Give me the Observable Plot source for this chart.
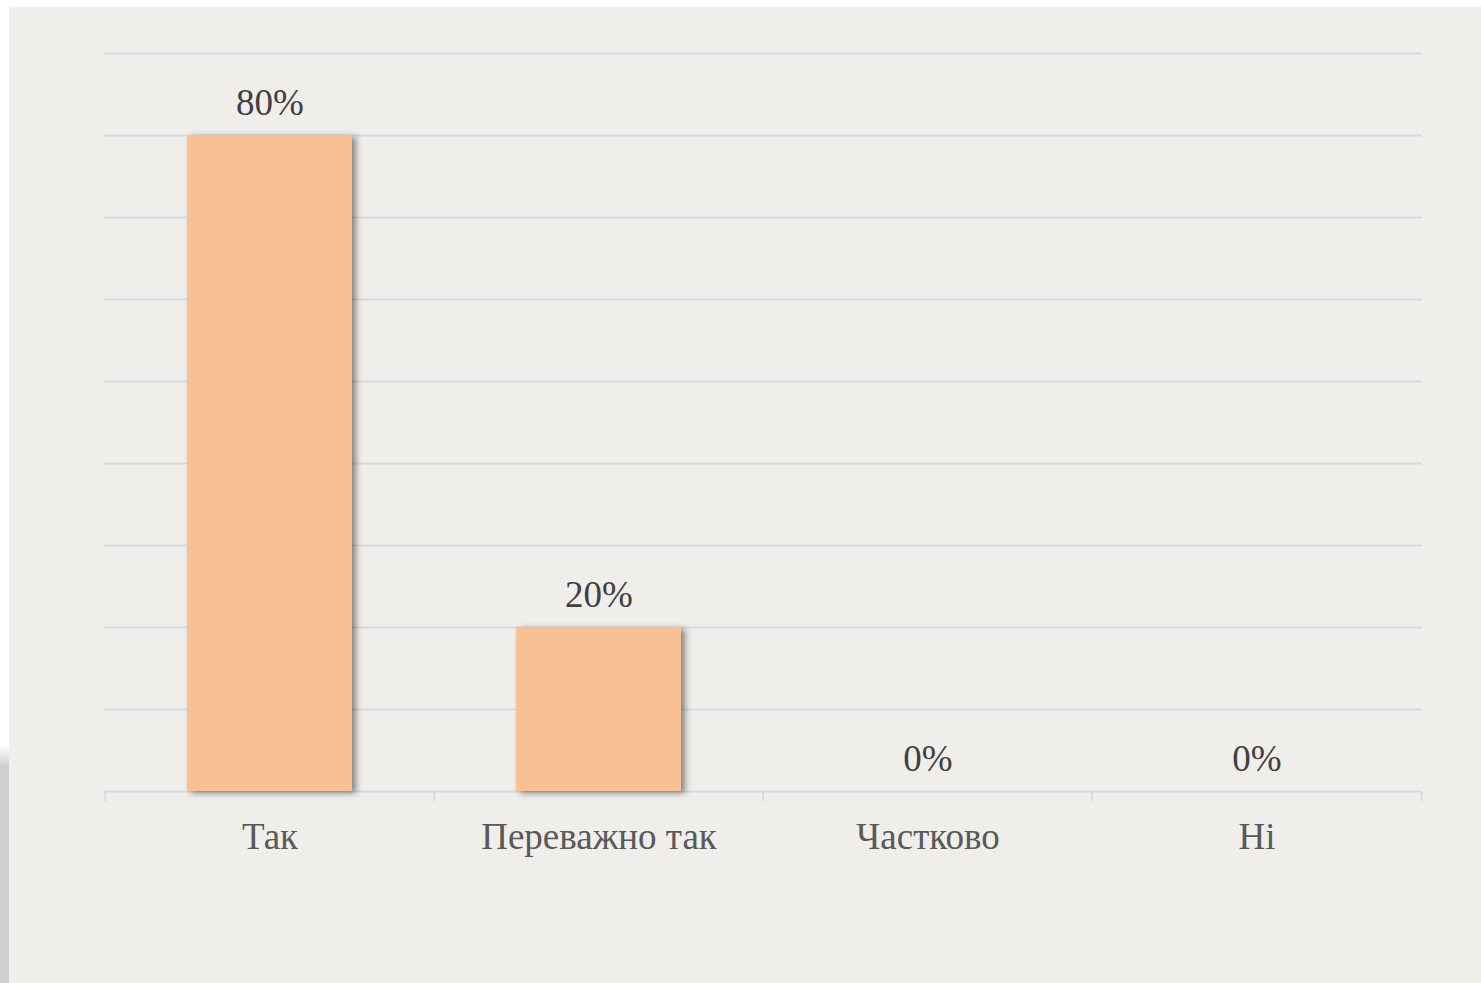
<!DOCTYPE html>
<html>
<head>
<meta charset="utf-8">
<script src="https://cdn.jsdelivr.net/npm/d3@7"></script>
<script src="https://cdn.jsdelivr.net/npm/@observablehq/plot@0.6"></script>
<style>
  html, body { margin: 0; padding: 0; background: #ffffff; width: 1481px; height: 983px; overflow: hidden; }
  #shade { position: absolute; left: 0; top: 745px; width: 12px; height: 238px;
           background: linear-gradient(to bottom, rgba(205,205,205,0) 0px, #cfcfcf 22px, #cfcfcf 100%); }
  #panel { position: absolute; left: 9px; top: 7px; width: 1472px; height: 976px; background: #efeeea; }
  #panel svg { display: block; }
  .bars { filter: drop-shadow(4px 2px 3px rgba(0,0,0,0.45)); }
</style>
</head>
<body>
<div id="shade"></div>
<div id="panel"></div>
<script>
const categories = ["Так", "Переважно так", "Частково", "Ні"];
const values = [80, 20, 0, 0];
const valueLabels = ["80%", "20%", "0%", "0%"];
const gridTicks = [0, 10, 20, 30, 40, 50, 60, 70, 80, 90];

const data = categories.map((c, i) => ({category: c, value: values[i], label: valueLabels[i]}));

const W = 1472, H = 976, mL = 95, mR = 59, mT = 46, mB = 192;
const step = (W - mL - mR) / 4;

const chart = Plot.plot({
  width: W,
  height: H,
  marginLeft: mL,
  marginRight: mR,
  marginTop: mT,
  marginBottom: mB,
  style: {background: "transparent", fontFamily: "'Liberation Serif', 'Times New Roman', serif"},
  x: {domain: categories, paddingInner: 0.5, paddingOuter: 0.25, axis: null},
  y: {domain: [0, 90], axis: null},
  marks: [
    Plot.ruleY(gridTicks, {y: d => d, stroke: "#d9d9d9", strokeWidth: 2}),
    Plot.ruleX(categories, {x: d => d, dx: -step / 2, y1: 0, y2: 0, insetBottom: -10, stroke: "#d9d9d9", strokeWidth: 2}),
    Plot.ruleX([categories[categories.length - 1]], {x: d => d, dx: step / 2, y1: 0, y2: 0, insetBottom: -10, stroke: "#d9d9d9", strokeWidth: 2}),
    Plot.barY(data, {x: "category", y: "value", fill: "#f9c193", className: "bars"}),
    Plot.text(data, {x: "category", y: "value", text: "label", dy: -32, fill: "#404040", fontSize: 37, lineAnchor: "middle"}),
    Plot.text(data, {x: "category", y: 0, text: "category", dy: 46, fill: "#595959", fontSize: 37, lineAnchor: "middle"})
  ]
});
document.getElementById("panel").appendChild(chart);
</script>
</body>
</html>
